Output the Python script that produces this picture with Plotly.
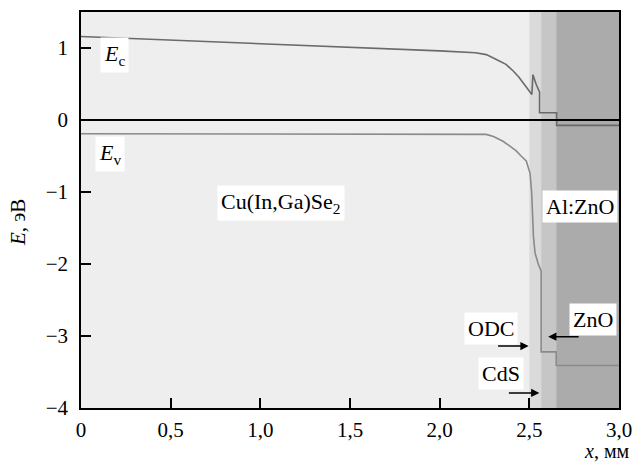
import plotly.graph_objects as go

# ---- data ----
ec_x = [0, 0.5, 1.0, 1.5, 2.0, 2.2, 2.26, 2.316, 2.37, 2.41, 2.44, 2.464, 2.49, 2.514,
        2.52, 2.539, 2.557, 2.557, 2.652, 2.652, 3.0]
ec_y = [1.16, 1.11, 1.065, 1.02, 0.96, 0.935, 0.908, 0.84, 0.773, 0.68, 0.60, 0.52, 0.44, 0.355,
        0.63, 0.49, 0.39, 0.10, 0.10, -0.075, -0.075]

ev_x = [0, 2.2, 2.26, 2.30, 2.353, 2.39, 2.427, 2.454, 2.483, 2.504, 2.513, 2.523, 2.532,
        2.55, 2.566, 2.566, 2.65, 2.65, 3.0]
ev_y = [-0.19, -0.19, -0.20, -0.23, -0.295, -0.36, -0.43, -0.50, -0.57, -0.74, -1.01, -1.62, -1.85,
        -2.0, -2.1, -3.22, -3.22, -3.41, -3.41]

fermi_x = [0, 3.0]
fermi_y = [0, 0]

# layer boundaries (x, mm) and shading
layer_names = ["Cu(In,Ga)Se2", "ODC", "CdS", "ZnO"]
layer_start = [0.0, 2.50, 2.566, 2.65]
layer_end = [2.50, 2.566, 2.65, 3.0]
layer_color = ["#eeeeee", "#dadada", "#c6c6c6", "#ababab"]

x_tickvals = [0, 0.5, 1.0, 1.5, 2.0, 2.5, 3.0]
x_ticktext = ["0", "0,5", "1,0", "1,5", "2,0", "2,5", "3,0"]
y_tickvals = [-4, -3, -2, -1, 0, 1]
y_ticktext = ["\u22124", "\u22123", "\u22122", "\u22121", "0", "1"]

FONT = "Liberation Serif, Times New Roman, serif"
FS = 21
FA = 22

fig = go.Figure()

shapes = []
for s, e, c in zip(layer_start, layer_end, layer_color):
    shapes.append(dict(type="rect", xref="x", yref="y", x0=s, x1=e, y0=-4, y1=1.5,
                       fillcolor=c, line=dict(width=0), layer="below"))

fig.add_trace(go.Scatter(x=ec_x, y=ec_y, mode="lines",
                         line=dict(color="#6a6a6a", width=1.6), showlegend=False))
fig.add_trace(go.Scatter(x=ev_x, y=ev_y, mode="lines",
                         line=dict(color="#8a8a8a", width=1.6), showlegend=False))
fig.add_trace(go.Scatter(x=fermi_x, y=fermi_y, mode="lines",
                         line=dict(color="black", width=2.2), showlegend=False))

ann = []
def box(text, x, y):
    ann.append(dict(text=text, x=x, y=y, xref="x", yref="y", showarrow=False,
                    bgcolor="white", borderpad=3, font=dict(family=FONT, size=FA, color="black")))

box("<i>E</i><sub>c</sub>", 0.187, 0.90)
box("<i>E</i><sub>v</sub>", 0.162, -0.47)
box("Cu(In,Ga)Se<sub>2</sub>", 1.114, -1.15)
box("Al:ZnO", 2.785, -1.205)
box("ZnO", 2.855, -2.765)
box("ODC", 2.284, -2.895)
box("CdS", 2.34, -3.52)

def arrow(x, y, ax):
    ann.append(dict(text="", x=x, y=y, xref="x", yref="y", ax=ax, ay=0,
                    showarrow=True, arrowhead=2, arrowsize=1.1, arrowwidth=1.5,
                    arrowcolor="black", standoff=0))

arrow(2.496, -3.14, -32)
arrow(2.556, -3.79, -32)
arrow(2.605, -3.01, 32)

ann.append(dict(text="<i>E</i>, эВ", x=-0.117, y=0.467, xref="paper", yref="paper",
                textangle=-90, showarrow=False, xanchor="center", yanchor="middle",
                font=dict(family=FONT, size=FS, color="black")))
ann.append(dict(text="<i>x</i>, мм", x=1.025, y=-0.108, xref="paper", yref="paper",
                showarrow=False, xanchor="right", yanchor="middle",
                font=dict(family=FONT, size=FS - 1, color="black")))

fig.update_layout(
    width=634, height=466,
    margin=dict(l=81, r=15, t=12, b=58, autoexpand=False),
    paper_bgcolor="white", plot_bgcolor="#eeeeee",
    shapes=shapes, annotations=ann,
    font=dict(family=FONT, size=FS, color="black"),
    xaxis=dict(range=[0, 3.0], tickvals=x_tickvals, ticktext=x_ticktext,
               ticks="inside", ticklen=10, tickwidth=1.5, tickcolor="black",
               showline=True, linecolor="black", linewidth=1.5, mirror=True,
               showgrid=False, zeroline=False, ticklabelstandoff=2),
    yaxis=dict(range=[-4, 1.5], tickvals=y_tickvals, ticktext=y_ticktext,
               ticks="inside", ticklen=10, tickwidth=1.5, tickcolor="black",
               showline=True, linecolor="black", linewidth=1.5, mirror=True,
               showgrid=False, zeroline=False, ticklabelstandoff=7),
)

fig.write_html("out.html", config={"displayModeBar": False},
               post_script="document.body.style.margin='0';document.body.style.padding='0';")
